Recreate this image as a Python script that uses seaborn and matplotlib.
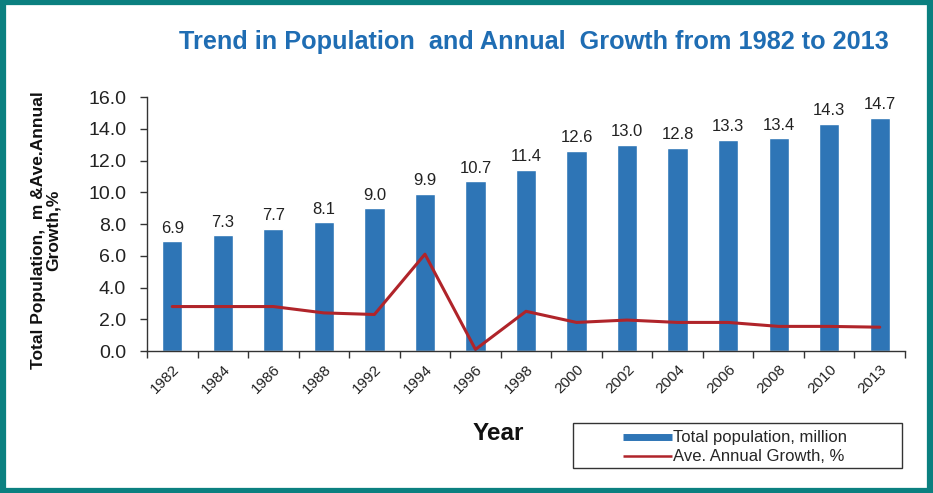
import numpy as np
import pandas as pd
import matplotlib
matplotlib.use("Agg")
import matplotlib.pyplot as plt
from matplotlib.lines import Line2D
from matplotlib.patches import Rectangle
from matplotlib.ticker import FormatStrFormatter
import seaborn as sns

years = ["1982", "1984", "1986", "1988", "1992", "1994", "1996", "1998",
         "2000", "2002", "2004", "2006", "2008", "2010", "2013"]
population = [6.9, 7.3, 7.7, 8.1, 9.0, 9.9, 10.7, 11.4,
              12.6, 13.0, 12.8, 13.3, 13.4, 14.3, 14.7]
growth = [2.8, 2.8, 2.8, 2.4, 2.3, 6.1, 0.1, 2.5,
          1.8, 1.95, 1.8, 1.8, 1.55, 1.55, 1.5]
y_ticks = [0.0, 2.0, 4.0, 6.0, 8.0, 10.0, 12.0, 14.0, 16.0]

BAR = "#2e75b6"
LINE = "#b0242a"
TEAL = "#0b8080"
TITLE = "#1f6db3"

sns.set_theme(style="white")
plt.rcParams["font.family"] = ["Liberation Sans", "DejaVu Sans"]

df = pd.DataFrame({"Year": years, "Population": population, "Growth": growth})

fig = plt.figure(figsize=(9.33, 4.93), dpi=100)
ax = fig.add_axes([147 / 933, 1 - 351 / 493, (905 - 147) / 933, (351 - 97) / 493])

sns.barplot(data=df, x="Year", y="Population", color=BAR, width=0.4,
            saturation=1, ax=ax)
sns.lineplot(x=np.arange(len(years)), y=df["Growth"], color=LINE,
             linewidth=2.2, ax=ax)

for i, v in enumerate(population):
    ax.text(i, v + 0.35, f"{v:.1f}", ha="center", va="bottom",
            fontsize=12, color="#222222")

ax.set_xlim(-0.5, len(years) - 0.5)
ax.set_ylim(0, 16)
ax.set_yticks(y_ticks)
ax.yaxis.set_major_formatter(FormatStrFormatter("%.1f"))
ax.tick_params(axis="y", which="major", left=True, length=5, width=1,
               color="#333333", labelsize=14, pad=10, labelcolor="#222222")

ax.set_xticks(np.arange(len(years)))
ax.set_xticklabels(years, rotation=45, ha="right", rotation_mode="anchor",
                   fontsize=11, color="#222222")
ax.set_xticks(np.arange(len(years) + 1) - 0.5, minor=True)
ax.tick_params(axis="x", which="major", bottom=False, length=0, pad=8)
ax.tick_params(axis="x", which="minor", bottom=True, length=5, width=1,
               color="#333333")

for side in ["top", "right"]:
    ax.spines[side].set_visible(False)
for side in ["left", "bottom"]:
    ax.spines[side].set_color("#333333")
    ax.spines[side].set_linewidth(1)

ax.set_xlabel("")
ax.set_ylabel("")

fig.text(534 / 933, 1 - 42 / 493, "Trend in Population  and Annual  Growth from 1982 to 2013",
         ha="center", va="center", fontsize=18.2, fontweight="bold", color=TITLE)
fig.text(46 / 933, 1 - 230 / 493, "Total Population,  m &Ave.Annual\nGrowth,%",
         rotation=90, ha="center", va="center", fontsize=12.5,
         fontweight="bold", color="#111111", linespacing=1.0)
fig.text(498 / 933, 1 - 433 / 493, "Year", ha="center", va="center",
         fontsize=17.5, fontweight="bold", color="#111111")

# legend box
fig.patches.append(Rectangle((573 / 933, 1 - 468 / 493), (902 - 573) / 933,
                             (468 - 423) / 493, transform=fig.transFigure,
                             fill=False, edgecolor="#333333", linewidth=1))
handles = [Line2D([], [], color=BAR, linewidth=5, solid_capstyle="butt"),
           Line2D([], [], color=LINE, linewidth=1.8, solid_capstyle="butt")]
fig.legend(handles, ["Total population, million", "Ave. Annual Growth, %"],
           loc="upper left", bbox_to_anchor=(610 / 933, 1 - 417 / 493),
           frameon=False, fontsize=12, handlelength=2.9, handletextpad=0.1,
           labelspacing=0.25, borderpad=0.3)

# outer frame
fig.patches.append(Rectangle((0.0027, 0.005), 0.9946, 0.99, transform=fig.transFigure,
                             fill=False, edgecolor=TEAL, linewidth=4.5))

fig.savefig("out.png", dpi=100)
